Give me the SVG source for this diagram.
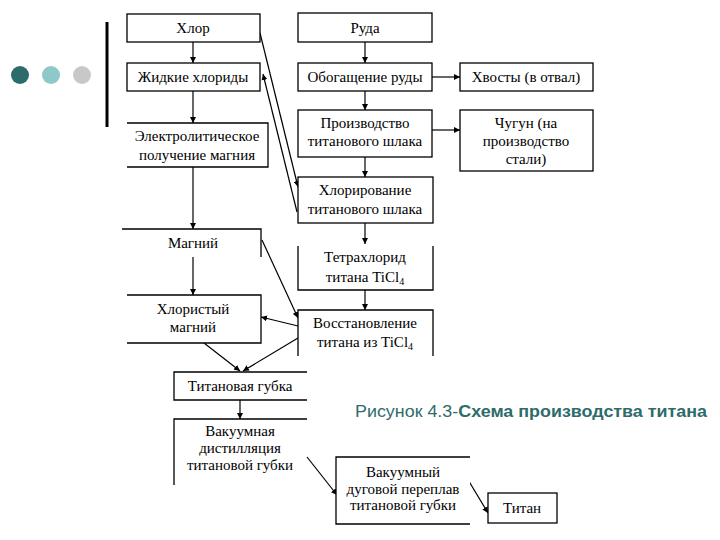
<svg xmlns="http://www.w3.org/2000/svg" width="720" height="540" viewBox="0 0 720 540">
<style>
.b{fill:#fff;stroke:#000;stroke-width:1.3}
.t{font-family:"Liberation Serif","Times New Roman",serif;font-size:15px;fill:#000;text-anchor:middle}
.c{stroke:#000;stroke-width:1.2;fill:none;marker-end:url(#ah)}
</style>
<defs>
<marker id="ah" viewBox="0 0 10 10" refX="10" refY="5" markerWidth="6" markerHeight="6" markerUnits="userSpaceOnUse" orient="auto">
<path d="M0,0L10,5L0,10z" fill="#000"/>
</marker>
</defs>
<rect width="720" height="540" fill="#fff"/>
<g id="decor">
<circle cx="20" cy="75" r="9" fill="#2e6b6b"/>
<circle cx="51" cy="75" r="9" fill="#8ec8c8"/>
<circle cx="82" cy="75" r="9" fill="#c8c8c8"/>
<line x1="107" y1="22" x2="107" y2="127" stroke="#000" stroke-width="3"/>
</g>
<g id="connectors">
<path class="c" d="M193,42V63"/>
<path class="c" d="M193,91V123"/>
<path class="c" d="M193,167V229"/>
<path class="c" d="M193,257V295"/>
<path class="c" d="M365,42V63"/>
<path class="c" d="M365,91V110"/>
<path class="c" d="M365,157V177"/>
<path class="c" d="M365,223V244"/>
<path class="c" d="M365,290V310"/>
<path class="c" d="M432,77H460"/>
<path class="c" d="M432,130H460"/>
<path class="c" d="M260,33L298,187"/>
<path class="c" d="M297,212L263,74"/>
<path class="c" d="M262,240L298,318"/>
<path class="c" d="M298,326L261,317"/>
<path class="c" d="M204,343L240,371"/>
<path class="c" d="M298,338L243,371"/>
<path class="c" d="M240,400V419"/>
<path class="c" d="M307,457L337,495"/>
<path class="c" d="M467,478L488,513"/>
</g>
<g id="n-hlor"><rect class="b" x="127" y="14" width="133" height="28"/><text class="t" x="193" y="33">Хлор</text></g>
<g id="n-zhidkie"><rect class="b" x="127" y="63" width="133" height="28"/><text class="t" x="193" y="82">Жидкие хлориды</text></g>
<g id="n-elektro"><path class="b" d="M127,123H268V167H127"/><text class="t" x="197" y="141">Электролитическое</text><text class="t" x="197" y="160">получение магния</text></g>
<g id="n-magniy"><path class="b" d="M122,229H261V257"/><text class="t" x="193" y="248">Магний</text></g>
<g id="n-hloristy"><path class="b" d="M127,295H261V343H127"/><text class="t" x="193" y="314">Хлористый</text><text class="t" x="193" y="332">магний</text></g>
<g id="n-ruda"><rect class="b" x="298" y="13" width="134" height="29"/><text class="t" x="365" y="33">Руда</text></g>
<g id="n-obog"><rect class="b" x="298" y="63" width="134" height="28"/><text class="t" x="365" y="82">Обогащение руды</text></g>
<g id="n-hvosty"><rect class="b" x="460" y="63" width="133" height="28"/><text class="t" x="526" y="82">Хвосты (в отвал)</text></g>
<g id="n-proizv"><rect class="b" x="298" y="110" width="134" height="47"/><text class="t" x="365" y="128">Производство</text><text class="t" x="365" y="146">титанового шлака</text></g>
<g id="n-chugun"><rect class="b" x="460" y="110" width="133" height="61"/><text class="t" x="526" y="128">Чугун (на</text><text class="t" x="526" y="146">производство</text><text class="t" x="526" y="164">стали)</text></g>
<g id="n-hlorir"><rect class="b" x="298" y="177" width="135" height="46"/><text class="t" x="365" y="195">Хлорирование</text><text class="t" x="365" y="214">титанового шлака</text></g>
<g id="n-tetra"><path class="b" d="M298,246V290H433V246"/><text class="t" x="365" y="262">Тетрахлорид</text><text class="t" x="365" y="282">титана TiCl<tspan font-size="10" dy="3">4</tspan></text></g>
<g id="n-vosst"><path class="b" d="M298,356V310H433V356"/><text class="t" x="365" y="328">Восстановление</text><text class="t" x="365" y="347">титана из TiCl<tspan font-size="10" dy="3">4</tspan></text></g>
<g id="n-gubka"><path class="b" d="M307,372H174V400H307"/><text class="t" x="240" y="391">Титановая губка</text></g>
<g id="n-distil"><path class="b" d="M174,485V419H307"/><text class="t" x="240" y="436">Вакуумная</text><text class="t" x="240" y="453">дистилляция</text><text class="t" x="240" y="470">титановой губки</text></g>
<g id="n-pereplav"><path class="b" d="M470,457H336V524H470"/><text class="t" x="403" y="477">Вакуумный</text><text class="t" x="403" y="494">дуговой переплав</text><text class="t" x="403" y="510">титановой губки</text></g>
<g id="n-titan"><rect class="b" x="488" y="493" width="69" height="30"/><text class="t" x="522" y="513">Титан</text></g>
<text x="355" y="417" font-family="'Liberation Sans',Arial,sans-serif" font-size="17" fill="#2e6b6b" textLength="352" lengthAdjust="spacingAndGlyphs">Рисунок 4.3-<tspan font-weight="bold">Схема производства титана</tspan></text>
</svg>
